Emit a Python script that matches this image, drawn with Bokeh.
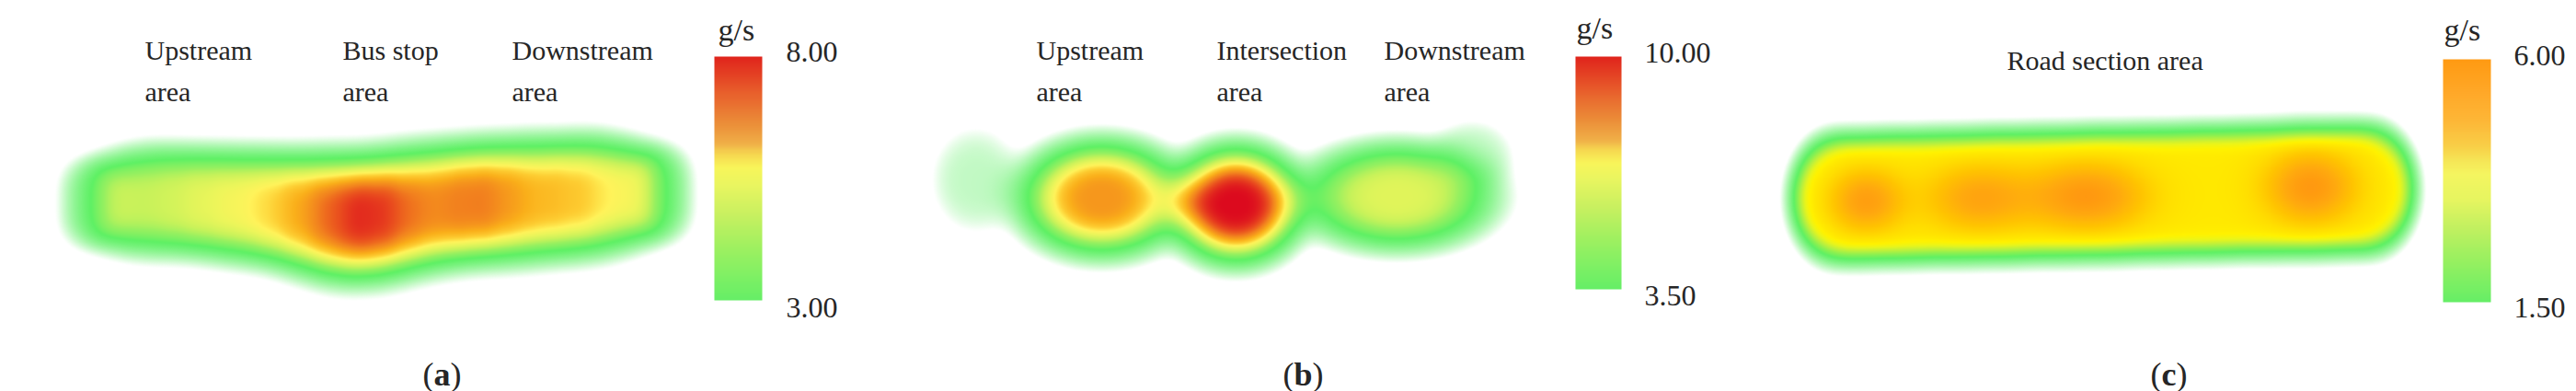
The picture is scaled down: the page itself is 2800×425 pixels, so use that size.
import numpy as np
from bokeh.plotting import figure
from bokeh.models import Range1d, LinearColorMapper
from bokeh.core.properties import value
from bokeh.embed import file_html
from bokeh.resources import INLINE

# ---------------- data (positions in reference pixels, rates in g/s) ----------------
# (a) bus stop section: local emission level along the road
a_src_x = [104, 130, 157, 184, 210, 236, 263, 290, 316, 342, 369, 396,
           422, 448, 475, 502, 528, 554, 581, 608, 634, 660, 687, 713]
a_src_y = [220, 219, 218, 218, 219, 221, 223, 225, 229, 233, 236, 236,
           233, 228, 224, 221, 219, 218, 216, 215, 213, 212, 211, 210]
a_src_q = [4.8, 4.85, 4.9, 4.95, 5.1, 5.5, 5.8, 6.0, 6.3, 7.0, 7.9, 8.0,
           7.5, 7.1, 7.1, 7.2, 7.0, 6.8, 6.6, 6.4, 6.1, 5.8, 5.5, 5.6]
# (b) intersection section: point sources
b_src_x = [1060, 1197, 1343, 1518, 1600]
b_src_y = [195, 215, 222, 213, 168]
b_src_q = [0.9, 8.4, 10.0, 6.3, 0.85]
# (c) road section: continuous road emission + local peaks
c_road_x = [1994, 2022, 2050, 2077, 2105, 2133, 2161, 2188, 2216, 2244, 2272,
            2299, 2327, 2355, 2383, 2410, 2438, 2466, 2494, 2521, 2549, 2577]
c_road_y = [215, 215, 214, 214, 213, 213, 212, 212, 211, 211, 210,
            210, 209, 209, 208, 208, 207, 207, 206, 206, 205, 205]
c_road_q = [3.9, 3.9, 3.9, 3.9, 3.9, 3.9, 3.9, 3.9, 3.9, 3.9, 3.9,
            3.9, 3.9, 3.9, 3.9, 3.9, 3.9, 3.9, 3.9, 3.9, 3.9, 3.9]
c_peak_x = [2028, 2150, 2268, 2511]
c_peak_y = [218, 215, 213, 203]
c_peak_q = [1.8, 1.6, 2.0, 2.0]

# colour-bar ranges and tick labels
cbar_low = [3.0, 3.5, 1.5]
cbar_high = [8.0, 10.0, 6.0]
unit_label = "g/s"
area_labels_a = ["Upstream\narea", "Bus stop\narea", "Downstream\narea"]
area_labels_b = ["Upstream\narea", "Intersection\narea", "Downstream\narea"]
area_labels_c = ["Road section area"]
captions = ["a", "b", "c"]

# ---------------- kernel shapes (style) ----------------
a_sig_x = [27] * len(a_src_x)
a_sig_y = [40, 46, 50, 50, 50, 51, 52, 53, 55, 58, 60, 60,
           60, 59, 58, 57, 57, 57, 57, 56, 56, 54, 49, 43]
b_sig_x = [38, 68, 55, 80, 35]
b_sig_y = [45, 48, 49, 44, 30]
c_road_sx = [28] * len(c_road_x)
c_road_sy = [39] * len(c_road_x)
c_sat_k = 8.0
c_peak_sx = [28, 40, 45, 35]
c_peak_sy = [24, 26, 26, 28]

heat_stops_ab = [(0.00, (94, 240, 100)), (0.22, (150, 240, 96)), (0.35, (200, 242, 90)),
                 (0.47, (236, 245, 90)), (0.54, (255, 243, 90)), (0.62, (253, 205, 50)),
                 (0.70, (250, 175, 26)), (0.80, (242, 130, 30)), (0.90, (232, 70, 30)),
                 (1.00, (220, 10, 30))]
bar_stops_ab = [(0.00, (102, 238, 102)), (0.10, (128, 240, 100)), (0.22, (160, 240, 96)),
                (0.35, (200, 240, 96)), (0.475, (234, 245, 96)), (0.544, (248, 245, 90)),
                (0.60, (246, 215, 80)), (0.64, (240, 176, 72)), (0.73, (235, 140, 56)),
                (0.85, (232, 96, 44)), (1.00, (224, 36, 28))]
heat_stops_c = [(0.00, (94, 240, 100)), (0.15, (140, 240, 80)), (0.28, (190, 240, 60)),
                (0.40, (235, 245, 25)), (0.48, (255, 242, 0)), (0.60, (255, 222, 0)),
                (0.72, (255, 196, 0)), (0.86, (255, 170, 14)), (1.00, (255, 150, 16))]
bar_stops_c = [(0.00, (102, 238, 102)), (0.17, (152, 240, 96)), (0.30, (192, 240, 96)),
               (0.42, (230, 245, 96)), (0.53, (245, 245, 96)), (0.575, (245, 232, 88)),
               (0.64, (248, 208, 72)), (0.74, (253, 184, 56)), (0.865, (255, 168, 40)),
               (1.00, (255, 154, 18))]

W, H = 2800, 425


def Y(py):
    return H - py


def kernel_sum(X, Yg, xs, ys, qs, sx, sy, px, py, e):
    v = np.zeros_like(X, dtype=float)
    for x0, y0, q, sxi, syi in zip(xs, ys, qs, sx, sy):
        bx = np.abs(X - x0) / sxi
        by = np.abs(Yg - y0) / syi
        v += q * np.exp(-0.5 * (bx ** px + by ** py) ** e)
    return v


def chain_norm(xs, ys, sx, e):
    """Sum of unit kernels along the ridge at the middle source (normalisation)."""
    m = len(xs) // 2
    X = np.array([[float(xs[m])]])
    Yg = np.array([[float(ys[m])]])
    return kernel_sum(X, Yg, xs, [ys[m]] * len(xs), [1.0] * len(xs), sx,
                      [1.0] * len(xs), 2, 2, e)[0, 0]


def interp_colors(t, stops):
    st = [s[0] for s in stops]
    return [np.interp(t, st, [s[1][k] for s in stops]) for k in range(3)]


def to_rgba(v, low, high, stops, f0, gamma):
    t = np.clip((v - low) / (high - low), 0, 1)
    r, g, b = interp_colors(t, stops)
    ramp = np.clip(np.log(np.maximum(v, 1e-12) / f0) / np.log(low / f0), 0, 1)
    a = ramp ** gamma
    img = np.zeros(v.shape + (4,), dtype=np.uint8)
    img[..., 0] = np.round(r)
    img[..., 1] = np.round(g)
    img[..., 2] = np.round(b)
    img[..., 3] = np.round(a * 255)
    return np.flipud(img.view(np.uint32).reshape(v.shape)).copy()


def palette(stops, n=256):
    t = np.linspace(0, 1, n)
    r, g, b = interp_colors(t, stops)
    return ["#%02x%02x%02x" % (int(round(ri)), int(round(gi)), int(round(bi)))
            for ri, gi, bi in zip(r, g, b)]


p = figure(width=W, height=H, x_range=Range1d(0, W), y_range=Range1d(0, H),
           output_backend="svg", toolbar_location=None, min_border=0,
           x_axis_location=None, y_axis_location=None, outline_line_color=None,
           background_fill_color="white", border_fill_color="white")
p.xgrid.visible = False
p.ygrid.visible = False


def draw_heat(x0, x1, y0, y1, field_fn, low, high, stops, f0, gamma):
    xs = np.arange(x0, x1) + 0.5
    ys = np.arange(y0, y1) + 0.5
    X, Yg = np.meshgrid(xs, ys)
    v = field_fn(X, Yg)
    img = to_rgba(v, low, high, stops, f0, gamma)
    p.image_rgba(image=[img], x=x0, y=Y(y1), dw=x1 - x0, dh=y1 - y0)


# (a): chain of flat-top kernels, normalised so each value is the local level
a_norm = chain_norm(a_src_x, a_src_y, a_sig_x, 1.5)
draw_heat(15, 770, 100, 360,
          lambda X, Yg: kernel_sum(X, Yg, a_src_x, a_src_y, a_src_q, a_sig_x, a_sig_y, 2, 3, 1.5) / a_norm,
          cbar_low[0], cbar_high[0], heat_stops_ab, 0.2, 1.4)
# (b): point sources
draw_heat(990, 1700, 90, 340,
          lambda X, Yg: kernel_sum(X, Yg, b_src_x, b_src_y, b_src_q, b_sig_x, b_sig_y, 2, 2, 1.8),
          cbar_low[1], cbar_high[1], heat_stops_ab, 0.3, 1.2)

# (c): saturating road plateau + local peaks
c_norm = chain_norm(c_road_x, c_road_y, c_road_sx, 1.5)
c_vsat = max(c_road_q)


def c_field(X, Yg):
    lin = kernel_sum(X, Yg, c_road_x, c_road_y, c_road_q, c_road_sx, c_road_sy, 2, 2, 1.5) / c_norm
    plate = c_vsat * (1 - np.exp(-c_sat_k * lin / c_vsat)) / (1 - np.exp(-c_sat_k))
    peaks = kernel_sum(X, Yg, c_peak_x, c_peak_y, c_peak_q, c_peak_sx, c_peak_sy, 2, 2, 1.0)
    return plate + peaks


draw_heat(1880, 2650, 90, 345, c_field, cbar_low[2], cbar_high[2], heat_stops_c, 0.1, 1.2)

# ---------------- colour bars ----------------
bar_boxes = [(776, 61, 828, 326), (1712, 61, 1762, 314), (2655, 64, 2707, 328)]
bar_stops = [bar_stops_ab, bar_stops_ab, bar_stops_c]
for (bx0, by0, bx1, by1), lo, hi, stp in zip(bar_boxes, cbar_low, cbar_high, bar_stops):
    mapper = LinearColorMapper(palette=palette(stp), low=lo, high=hi)
    grad = np.linspace(lo, hi, 256).reshape(256, 1)
    p.image(image=[grad], x=bx0, y=Y(by1), dw=bx1 - bx0, dh=by1 - by0, color_mapper=mapper)

FONT = value("Liberation Serif")
TXT = "#262626"

# unit titles
unit_pos = [(780, 32), (1713, 30), (2656, 32)]
p.text(x=[u[0] for u in unit_pos], y=[Y(u[1]) for u in unit_pos], text=[unit_label] * 3,
       text_font=FONT, text_font_size=value("34px"), text_color=TXT,
       text_align="left", text_baseline="alphabetic")

# tick labels (high at top, low at bottom)
hi_pos = [(854, 56), (1787, 57), (2732, 60)]
lo_pos = [(854, 334), (1787, 321), (2732, 334)]
p.text(x=[h[0] for h in hi_pos], y=[Y(h[1]) for h in hi_pos],
       text=["%.2f" % h for h in cbar_high],
       text_font=FONT, text_font_size=value("32px"), text_color=TXT,
       text_align="left", text_baseline="alphabetic")
p.text(x=[l[0] for l in lo_pos], y=[Y(l[1]) for l in lo_pos],
       text=["%.2f" % l for l in cbar_low],
       text_font=FONT, text_font_size=value("32px"), text_color=TXT,
       text_align="left", text_baseline="alphabetic")

# area labels
label_x = [157, 372, 556, 1126, 1322, 1504]
label_text = area_labels_a + area_labels_b
lx, ly, lt = [], [], []
for x0, txt in zip(label_x, label_text):
    for i, line in enumerate(txt.split("\n")):
        lx.append(x0)
        ly.append(Y(54 + 45 * i))
        lt.append(line)
lx.append(2181)
ly.append(Y(65))
lt.append(area_labels_c[0])
p.text(x=lx, y=ly, text=lt, text_font=FONT, text_font_size=value("30px"), text_color=TXT,
       text_align="left", text_baseline="alphabetic")

# captions (a) (b) (c) with bold letter
cap_cx = [480, 1416, 2357]
cap_half = {"a": 9, "b": 10, "c": 8}
for cx, letter in zip(cap_cx, captions):
    hw = cap_half[letter]
    p.text(x=[cx - hw], y=[Y(406)], text=["("], text_font=FONT, text_font_size=value("36px"),
           text_color=TXT, text_align="right", text_baseline="alphabetic")
    p.text(x=[cx], y=[Y(406)], text=[letter], text_font=FONT, text_font_size=value("36px"),
           text_font_style="bold", text_color=TXT, text_align="center", text_baseline="alphabetic")
    p.text(x=[cx + hw], y=[Y(406)], text=[")"], text_font=FONT, text_font_size=value("36px"),
           text_color=TXT, text_align="left", text_baseline="alphabetic")

open("out.html", "w").write(file_html(p, INLINE))
